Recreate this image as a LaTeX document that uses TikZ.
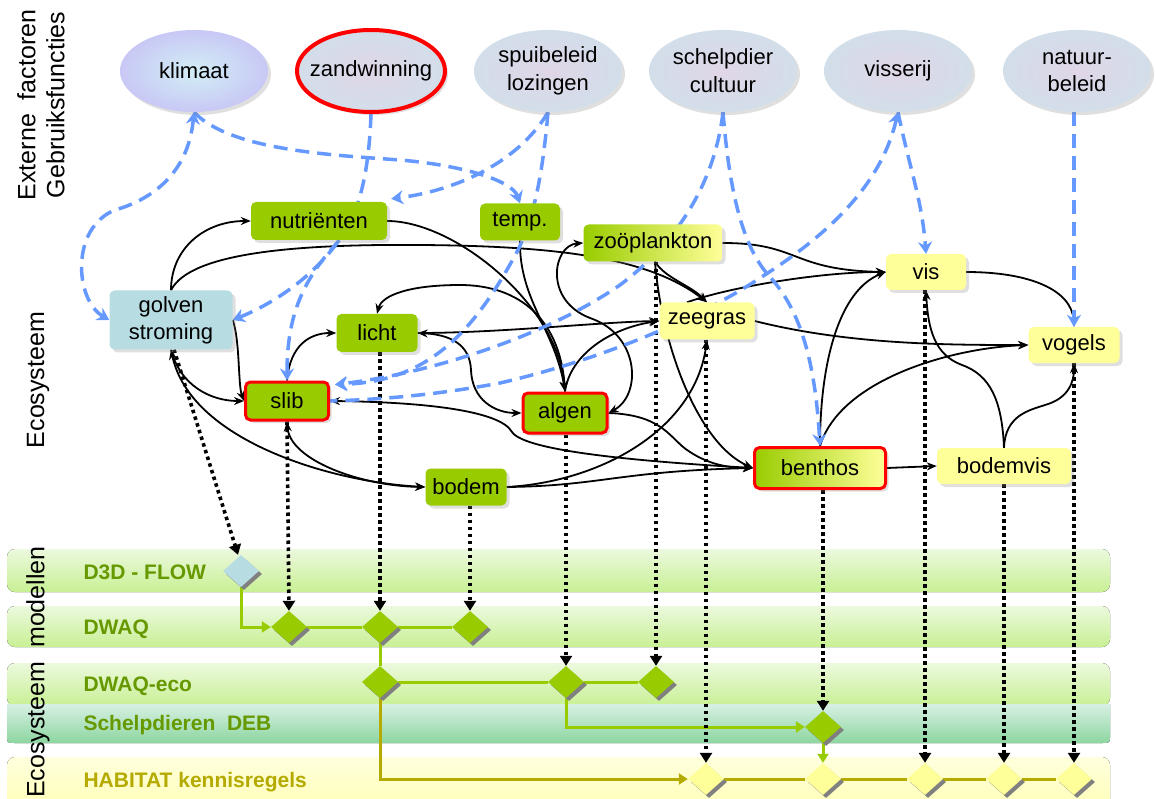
\documentclass[tikz,border=0pt]{standalone}
\usepackage{fontspec}
\setmainfont{Liberation Sans}
\usetikzlibrary{shapes.geometric,arrows.meta,shadows,calc}
\pgfdeclarelayer{bands}
\pgfdeclarelayer{edges}
\pgfsetlayers{bands,edges,main}
\definecolor{ngreen}{RGB}{153,204,0}
\definecolor{nyellow}{RGB}{255,255,153}
\definecolor{nblue}{RGB}{183,221,227}
\definecolor{dblue}{RGB}{102,153,255}
\definecolor{lgreen}{RGB}{102,153,0}
\definecolor{olivec}{RGB}{180,170,0}
\definecolor{ellfill}{RGB}{210,222,233}
\definecolor{ellin}{RGB}{224,214,232}
\definecolor{klout}{RGB}{200,200,245}
\definecolor{klin}{RGB}{210,238,245}
\definecolor{bandtop}{RGB}{236,249,222}
\definecolor{bandbot}{RGB}{200,240,148}
\definecolor{debtop}{RGB}{216,240,228}
\definecolor{debbot}{RGB}{140,214,160}
\definecolor{habtop}{RGB}{255,255,222}
\definecolor{habbot}{RGB}{255,255,180}
\newcommand\nf{\fontsize{22}{27}\selectfont}
\tikzset{
  eco/.style={rectangle, rounded corners=5pt, inner sep=0pt, font=\nf, align=center,
    drop shadow={shadow xshift=3pt,shadow yshift=-3pt,opacity=0.25}},
  redb/.style={draw=red, line width=3pt},
  ext/.style={ellipse, minimum width=148pt, minimum height=82pt, inner sep=0pt,
    inner color=ellin, outer color=ellfill,
    drop shadow={shadow xshift=3pt,shadow yshift=-3pt,opacity=0.25}},
  lbl/.style={font=\fontsize{22}{28}\selectfont, align=center, text=black},
  dia/.style={diamond, minimum width=36pt, minimum height=32pt, inner sep=0pt,
    drop shadow={shadow xshift=3pt,shadow yshift=-3pt,fill=gray,opacity=1}},
  bandlbl/.style={anchor=base west, font=\fontsize{21}{24}\selectfont\bfseries, text=lgreen},
  side/.style={rotate=90, font=\fontsize{25}{29}\selectfont, align=center},
  ba/.style={line width=1.8pt, -{Stealth[length=10pt,width=8pt]}},
  bb/.style={line width=1.8pt, {Stealth[length=10pt,width=8pt]}-{Stealth[length=10pt,width=8pt]}},
  da/.style={draw=dblue, line width=3.5pt, dash pattern=on 14pt off 8pt, -{Stealth[length=12pt,width=14pt]}},
  dbb/.style={draw=dblue, line width=3.5pt, dash pattern=on 14pt off 8pt, {Stealth[length=12pt,width=14pt]}-{Stealth[length=12pt,width=14pt]}},
  dr/.style={draw=dblue, line width=3.5pt, dash pattern=on 14pt off 8pt, {Stealth[length=12pt,width=14pt]}-},
  dt/.style={line width=3.6pt, dash pattern=on 3.5pt off 3.5pt, -{Triangle[length=10pt,width=12pt]}},
  gline/.style={draw=ngreen, line width=3pt},
  oline/.style={draw=olivec, line width=3pt},
  gtip/.style={-{Triangle[length=9pt,width=11pt]}},
}
\begin{document}
\begin{tikzpicture}[x=1pt,y=-1pt]
\useasboundingbox (0,0) rectangle (1156,799);

% side labels
\node[side] (lab1) at (41,105) {Externe\ \ factoren\\Gebruiksfuncties};
\node[side] (lab2) at (38,380) {Ecosysteem};
\node[side] (lab3) at (38,672) {Ecosysteem\ \ modellen};

% external factors
\node[ext, inner color=klin, outer color=klout, label={[lbl]center:klimaat}] (kli) at (194,71) {};
\node[ext, draw=red, line width=4pt, label={[lbl]center:zandwinning}] (zand) at (371,71) {};
\node[ext, label={[lbl]center:{spuibeleid\\lozingen}}] (spui) at (548,71) {};
\node[ext, label={[lbl]center:{schelpdier\\cultuur}}] (schel) at (723,71) {};
\node[ext, label={[lbl]center:visserij}] (vsr) at (898,71) {};
\node[ext, label={[lbl]center:{natuur-\\beleid}}] (nat) at (1077,71) {};

% ecosystem nodes
\node[eco,fill=ngreen,minimum width=136pt,minimum height=38pt] (nut) at (319,221) {nutriënten};
\node[eco,fill=ngreen,minimum width=80pt,minimum height=37pt] (temp) at (520,222) {temp.};
\node[eco,left color=ngreen,right color=nyellow,minimum width=139pt,minimum height=37pt] (zoo) at (653,243) {zoöplankton};
\node[eco,fill=nblue,minimum width=123pt,minimum height=59pt] (golf) at (171,320) {golven\\stroming};
\node[eco,fill=ngreen,minimum width=81pt,minimum height=38pt] (licht) at (377,333) {licht};
\node[eco,fill=nyellow,minimum width=95pt,minimum height=37pt] (zee) at (707,321) {zeegras};
\node[eco,fill=nyellow,minimum width=80pt,minimum height=36pt] (vis) at (926,272) {vis};
\node[eco,fill=nyellow,minimum width=91pt,minimum height=36pt] (vog) at (1074,345) {vogels};
\node[eco,redb,fill=ngreen,minimum width=83pt,minimum height=38pt] (slib) at (287,401) {slib};
\node[eco,redb,fill=ngreen,minimum width=84pt,minimum height=40pt] (alg) at (565,413) {algen};
\node[eco,fill=ngreen,minimum width=81pt,minimum height=37pt] (bod) at (466,487) {bodem};
\node[eco,redb,left color=ngreen,right color=nyellow,minimum width=131pt,minimum height=41pt] (ben) at (820,468) {benthos};
\node[eco,fill=nyellow,minimum width=134pt,minimum height=36pt] (bvis) at (1004,466) {bodemvis};

% model diamonds
\node[dia,fill=nblue] (d3d) at (241,571) {};
\node[dia,fill=ngreen] (dw1) at (289,627) {};
\node[dia,fill=ngreen] (dw2) at (380,627) {};
\node[dia,fill=ngreen] (dw3) at (470,627) {};
\node[dia,fill=ngreen] (eco1) at (380,682) {};
\node[dia,fill=ngreen] (eco2) at (566,682) {};
\node[dia,fill=ngreen] (eco3) at (656,682) {};
\node[dia,fill=ngreen] (deb) at (823,727) {};
\node[dia,fill=nyellow] (h1) at (706,779) {};
\node[dia,fill=nyellow] (h2) at (823,779) {};
\node[dia,fill=nyellow] (h3) at (925,779) {};
\node[dia,fill=nyellow] (h4) at (1004,779) {};
\node[dia,fill=nyellow] (h5) at (1074,779) {};

% band labels
\node[bandlbl] (l1) at (80,579) {D3D - FLOW};
\node[bandlbl] (l2) at (80,634) {DWAQ};
\node[bandlbl] (l3) at (80,691) {DWAQ-eco};
\node[bandlbl] (l4) at (80,730) {Schelpdieren\ \ DEB};
\node[bandlbl, text=olivec] (l5) at (80,787) {HABITAT kennisregels};

\begin{pgfonlayer}{bands}
\fill[rounded corners=8pt, top color=bandtop, bottom color=bandbot] (7,549) rectangle (1110,592);
\fill[rounded corners=8pt, top color=bandtop, bottom color=bandbot] (7,606) rectangle (1110,647);
\fill[rounded corners=8pt, top color=bandtop, bottom color=bandbot] (7,663) rectangle (1110,706);
\fill[top color=debtop, bottom color=debbot] (7,704) -- (1110,704) -- (1110,735) .. controls (1110,743) .. (1102,743) -- (15,743) .. controls (7,743) .. (7,735) -- cycle;
\fill[rounded corners=8pt, top color=habtop, bottom color=habbot] (7,757) rectangle (1110,812);
\end{pgfonlayer}

\begin{pgfonlayer}{edges}
% green / olive model connectors
\draw[gline,gtip] (d3d.south) |- (dw1.west);
\draw[gline] (dw1.east) -- (dw2.west);
\draw[gline] (dw2.east) -- (dw3.west);
\draw[gline] (dw2.south) -- (eco1.north);
\draw[gline] (eco1.east) -- (eco2.west);
\draw[gline] (eco2.east) -- (eco3.west);
\draw[gline,gtip] (eco2.south) |- (deb.west);
\draw[gline,gtip] (deb.south) -- (h2.north);
\draw[oline,gtip] (eco1.south) |- (h1.west);
\draw[oline] (h1.east) -- (h2.west);
\draw[oline] (h2.east) -- (h3.west);
\draw[oline] (h3.east) -- (h4.west);
\draw[oline] (h4.east) -- (h5.west);

% dotted links to models
\draw[dt] ([xshift=3pt]golf.south) -- ([xshift=-3pt]d3d.north);
\draw[dt] (slib.south) -- (dw1.north);
\draw[dt] (dw2.north |- licht.south) -- (dw2.north);
\draw[dt] (dw3.north |- bod.south) -- (dw3.north);
\draw[dt] (eco2.north |- alg.south) -- (eco2.north);
\draw[dt] (eco3.north |- zoo.south) -- (eco3.north);
\draw[dt] (h1.north |- zee.south) -- (h1.north);
\draw[dt] (deb.north |- ben.south) -- (deb.north);
\draw[dt] (h3.north |- vis.south) -- (h3.north);
\draw[dt] (h4.north |- bvis.south) -- (h4.north);
\draw[dt] (h5.north |- vog.south) -- (h5.north);

% black ecosystem relations
\draw[ba] (golf.north) .. controls (171,248) and (205,221) .. (nut.west);
\draw[ba] (golf.north) .. controls (190,252) and (300,244) .. (420,245) .. controls (560,246) and (650,258) .. (zee.north);
\draw[ba] ([xshift=2pt]zoo.south) .. controls (665,278) and (690,285) .. (zee.north);
\draw[ba] (nut.east) .. controls (455,221) and (558,305) .. (alg.north);
\draw[ba] (temp.south) .. controls (519,300) and (555,330) .. (alg.north);
\draw[ba] (alg.north) .. controls (562,320) and (520,285) .. (460,285) .. controls (410,285) and (382,295) .. (licht.north);
\draw[bb] (licht.east) .. controls (458,335) and (470,350) .. (471,370) .. controls (472,400) and (495,413) .. (alg.west);
\draw[ba] (licht.east) .. controls (500,333) and (600,322) .. (zee.west);
\draw[ba] (alg.north) .. controls (570,355) and (610,328) .. (zee.west);
\draw[ba] ([xshift=-20pt]zee.north) .. controls (730,287) and (820,272) .. (vis.west);
\draw[bb] (zoo.west) .. controls (553,245) and (543,300) .. (590,318) .. controls (640,335) and (642,395) .. (alg.east);
\draw[ba] (alg.east) .. controls (665,415) and (670,440) .. (690,452) .. controls (710,465) and (730,468) .. (ben.west);
\draw[bb] (slib.east) .. controls (420,402) and (500,410) .. (512,432) .. controls (525,452) and (650,462) .. (ben.west);
\draw[ba] (bod.east) .. controls (600,486) and (620,471) .. (ben.west);
\draw[ba] (bod.east) .. controls (600,482) and (695,430) .. (zee.south);
\draw[ba] ([xshift=2pt]zoo.south) .. controls (662,350) and (700,445) .. (ben.west);
\draw[ba] (zoo.east) .. controls (800,243) and (790,270) .. (vis.west);
\draw[ba] (zee.east) .. controls (850,345) and (950,345) .. (vog.west);
\draw[ba] (ben.north) .. controls (820,360) and (840,290) .. (vis.west);
\draw[ba] (ben.north) .. controls (840,380) and (950,348) .. (vog.west);
\draw[ba] (ben.east) -- (bvis.west);
\draw[ba] (bvis.north) .. controls (1002,400) and (990,375) .. (962,365) .. controls (935,355) and (928,330) .. (vis.south);
\draw[ba] (bvis.north) .. controls (1005,415) and (1030,410) .. (1045,405) .. controls (1070,398) and (1074,380) .. (vog.south);
\draw[ba] (vis.east) .. controls (1030,272) and (1072,290) .. (vog.north);
\draw[ba] (golf.east) .. controls (240,340) and (238,385) .. (slib.west);
\draw[ba] (golf.south) .. controls (180,385) and (210,401) .. (slib.west);
\draw[bb] (golf.south) .. controls (190,440) and (330,482) .. (bod.west);
\draw[bb] (slib.south) .. controls (290,460) and (360,486) .. (bod.west);
\draw[ba] (slib.north) .. controls (290,345) and (310,333) .. (licht.west);

% blue dashed external influences
\coordinate (zsplit) at (337,243);
\draw[dbb] (kli.south) .. controls (188,175) and (150,200) .. (115,210) .. controls (70,228) and (75,300) .. (golf.west);
\draw[da] (kli.south) .. controls (230,150) and (330,155) .. (400,160) .. controls (460,165) and (512,180) .. (temp.north);
\draw[da] (zand.south) .. controls (369,170) and (360,215) .. (zsplit) .. controls (300,283) and (287,320) .. (slib.north);
\draw[da] (zsplit) .. controls (310,280) and (270,305) .. (golf.east);
\draw[da] (spui.south) .. controls (520,160) and (460,190) .. ([xshift=4pt,yshift=3pt]nut.north east);
\draw[da] (spui.south) .. controls (543,170) and (535,215) .. (518,250) .. controls (475,330) and (430,382) .. ([xshift=5pt,yshift=-4pt]slib.north east);
\draw[da] (schel.south) .. controls (715,180) and (680,240) .. (620,285) .. controls (540,340) and (420,375) .. ([xshift=5pt,yshift=-4pt]slib.north east);
\draw[dr] (vsr.south) .. controls (880,190) and (820,240) .. (760,278) .. controls (700,318) and (600,360) .. (500,383) .. controls (420,398) and (360,400) .. (slib.east);
\draw[da] (vsr.south) .. controls (910,170) and (922,200) .. (vis.north);
\draw[da] (schel.south) .. controls (730,200) and (745,250) .. (770,277) .. controls (800,310) and (815,360) .. (ben.north);
\draw[da] (vog.north |- nat.south) -- (vog.north);
\end{pgfonlayer}
\end{tikzpicture}
\end{document}
